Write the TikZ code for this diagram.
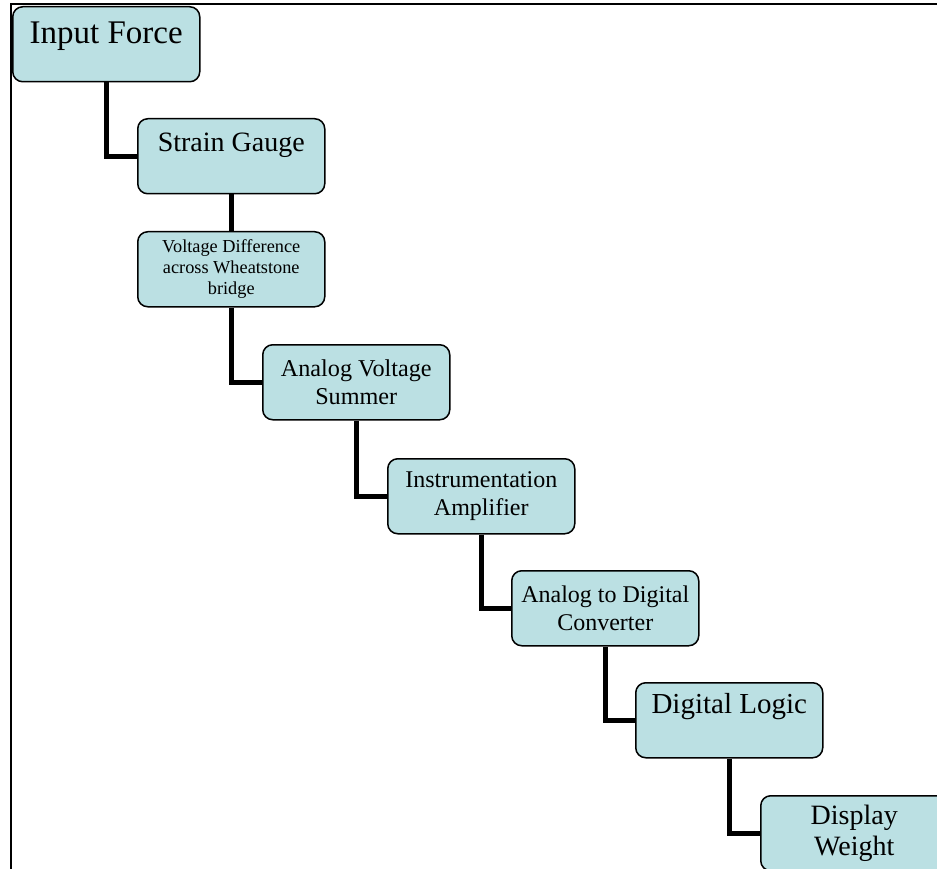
\documentclass[tikz,border=0pt]{standalone}
\usepackage{fontspec}
\setmainfont{Liberation Serif}
\definecolor{boxfill}{RGB}{187,224,227}
\begin{document}
\begin{tikzpicture}[x=1pt,y=-1pt,
  blk/.style={draw=black, line width=1.5pt, rounded corners=10pt, fill=boxfill,
    minimum width=187pt, minimum height=75pt, inner sep=0pt, anchor=north west,
    align=center, text=black},
  link/.style={line width=5pt, draw=black, line join=miter},
  frameline/.style={line width=2pt, draw=black}]
\clip (0,0) rectangle (937,869);
\draw[frameline] (11,869) -- (11,4) -- (937,4);

\node[blk, text height=37pt, text depth=38pt, font=\fontsize{33}{38}\selectfont] (if) at (12,6) {Input Force};
\node[blk, text height=33pt, text depth=42pt, font=\fontsize{28}{32}\selectfont] (sg) at (137,118) {Strain Gauge};
\node[blk, font=\fontsize{18.3}{21}\selectfont] (vd) at (137,231) {Voltage Difference\\across Wheatstone\\bridge};
\node[blk, font=\fontsize{24.2}{28}\selectfont] (avs) at (262,344) {Analog Voltage\\Summer};
\node[blk, font=\fontsize{24}{28}\selectfont] (ia) at (387,458) {Instrumentation\\Amplifier};
\node[blk, font=\fontsize{24}{28}\selectfont] (adc) at (511,570) {Analog to Digital\\Converter};
\node[blk, text height=31pt, text depth=44pt, font=\fontsize{29}{33}\selectfont] (dl) at (635,682) {Digital Logic};
\node[blk, font=\fontsize{28}{31}\selectfont] (dw) at (760,795) {Display\\Weight};

\draw[link] (if.south) |- (sg.west);
\draw[link] (sg.south) -- (vd.north);
\draw[link] (vd.south) |- (avs.west);
\draw[link] (avs.south) |- (ia.west);
\draw[link] (ia.south) |- (adc.west);
\draw[link] (adc.south) |- (dl.west);
\draw[link] (dl.south) |- (dw.west);
\end{tikzpicture}
\end{document}
